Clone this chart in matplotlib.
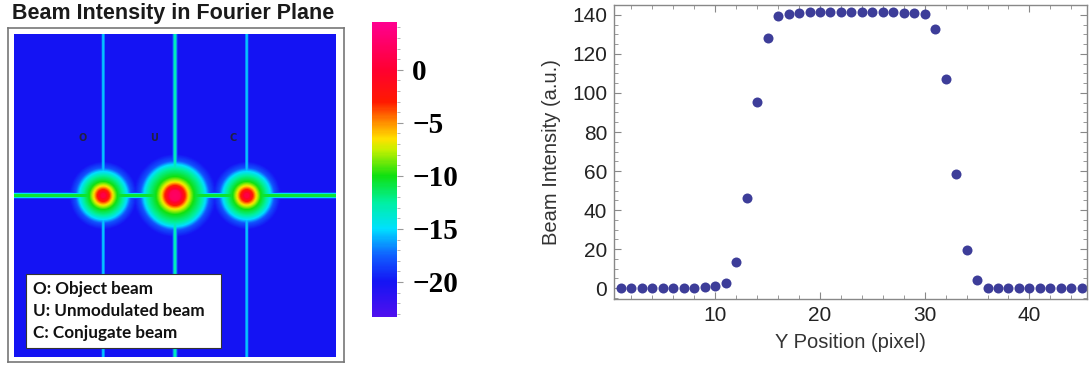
import numpy as np
import matplotlib
matplotlib.use("Agg")
import matplotlib.pyplot as plt
from matplotlib.colors import LinearSegmentedColormap, Normalize
from matplotlib.patches import Rectangle
from matplotlib.ticker import MultipleLocator

# ---------------- data ----------------
# Fourier plane: three beams on a 322 x 322 pixel grid (centred on 0)
beam_labels = ["O", "U", "C"]
beam_x = [-72, 0, 72]            # px
# radial log-intensity profiles (radius in px, level)
small_r = [0, 2, 6, 10, 14, 20, 24, 28, 40]
small_v = [1, 1, -3, -7, -10, -12.5, -15, -18, -22]
big_r = [0, 5, 10, 14, 19, 27, 31, 35, 48]
big_v = [2.5, 2, -3, -7, -10, -12.5, -15, -18, -22]
vline_level = [-15.3, -12.8, -15.3]
hline_level = -10.5
background_level = -20.0
legend_lines = ["O: Object beam", "U: Unmodulated beam", "C: Conjugate beam"]

cbar_ticks = [0, -5, -10, -15, -20]
cbar_range = (-23.3, 4.5)

# line profile through the beam
y_position = list(range(1, 46))
intensity = [0, 0, 0, 0, 0, 0, 0, 0, 0.3, 1.2, 2.6, 13.3, 46, 95.3, 128.4,
             139.3, 140.6, 141.2, 141.3, 141.3, 141.3, 141.3, 141.3, 141.3,
             141.3, 141.3, 141.3, 141.2, 141, 140.3, 132.7, 107, 58.6, 19.6,
             4.3, 0.2, 0, 0, 0, 0, 0, 0, 0, 0, 0]

# ---------------- colour map ----------------
cmap_stops = [(-23.3, "#5010ee"), (-20, "#1414f4"), (-17.5, "#1060ff"),
              (-15, "#00e0ff"), (-12.5, "#00f0a0"), (-10, "#10e010"),
              (-7.5, "#c8f000"), (-6.5, "#ffe000"), (-5, "#ff9000"),
              (-3, "#ff1a00"), (0, "#ff0030"), (4.5, "#ff0090")]
span = cbar_range[1] - cbar_range[0]
cmap = LinearSegmentedColormap.from_list(
    "fourier", [((v - cbar_range[0]) / span, c) for v, c in cmap_stops])
norm = Normalize(*cbar_range)

# ---------------- build field ----------------
half = 161
g = np.arange(-half, half + 1)
X, Y = np.meshgrid(g, g)
field = np.full(X.shape, background_level, dtype=float)
field = np.maximum(field, hline_level - 4 * np.maximum(0, np.abs(Y) - 1.0))
profiles = [(small_r, small_v), (big_r, big_v), (small_r, small_v)]
for bx, lv, (pr, pv) in zip(beam_x, vline_level, profiles):
    field = np.maximum(field, lv - 4 * np.maximum(0, np.abs(X - bx) - 0.8))
    r = np.hypot(X - bx, Y)
    field = np.maximum(field, np.interp(r, pr, pv))

fig = plt.figure(figsize=(10.92, 3.71), dpi=100)
W, H = 1092, 371

def px_axes(x0, y0, x1, y1):
    return fig.add_axes([x0 / W, (H - y1) / H, (x1 - x0) / W, (y1 - y0) / H])

# ---------------- left: image ----------------
ax_img = px_axes(8, 28, 344, 362)
im = ax_img.imshow(field, cmap=cmap, norm=norm, interpolation="bilinear",
                   extent=[-half, half, -half, half], origin="upper")
ax_img.set_xlim(-half - 6, half + 8)
ax_img.set_ylim(-half - 5, half + 6)
ax_img.set_aspect("auto")
ax_img.set_xticks([])
ax_img.set_yticks([])
for s in ax_img.spines.values():
    s.set_color("#777777")
    s.set_linewidth(1.2)

for lab, bx, dx in zip(beam_labels, beam_x, [-20, -21, -14]):
    ax_img.text(bx + dx, 57, lab, fontsize=7, color="#202040", ha="center",
                va="center", fontweight="bold")

# legend box
ax_img.add_patch(Rectangle((-149, -152), 195, 74, fc="white", ec="#333333",
                           lw=0.8, zorder=3))
for i, line in enumerate(legend_lines):
    ax_img.text(-142, -93 - 22 * i, line, fontsize=12.3, family="Lato",
                fontweight="bold", color="#111111", ha="left", va="center",
                zorder=4)

fig.text(12 / W, (H - 14) / H, "Beam Intensity in Fourier Plane", fontsize=15.5,
         fontweight="bold", family="Liberation Sans", color="#1a1a1a",
         ha="left", va="center")

# ---------------- colour bar ----------------
cax = px_axes(372, 22, 397, 317)
cb = fig.colorbar(im, cax=cax, ticks=cbar_ticks)
cb.outline.set_visible(False)
cax.yaxis.set_minor_locator(MultipleLocator(1))
cax.tick_params(which="major", length=4, width=0.8, color="#999999", pad=7)
cax.tick_params(which="minor", length=2, width=0.6, color="#aaaaaa")
for t in cax.get_yticklabels():
    t.set_family("Liberation Serif")
    t.set_fontweight("bold")
    t.set_fontsize(21)

# ---------------- right: scatter ----------------
ax = px_axes(614, 5, 1087, 299)
ax.plot(y_position, intensity, "o", color="#3d3d99", markersize=7.2,
        markeredgewidth=0)
ax.set_xlim(0.33, 45.5)
ax.set_ylim(-5.6, 145.1)
ax.xaxis.set_major_locator(MultipleLocator(10))
ax.xaxis.set_minor_locator(MultipleLocator(2))
ax.yaxis.set_major_locator(MultipleLocator(20))
ax.yaxis.set_minor_locator(MultipleLocator(5))
ax.tick_params(which="both", direction="in", top=True, right=True,
               color="#888888", labelsize=15, labelcolor="#222222")
ax.tick_params(which="major", length=5, width=0.8, pad=5)
ax.tick_params(which="minor", length=3, width=0.6)
for s in ax.spines.values():
    s.set_color("#888888")
    s.set_linewidth(1.0)
for t in ax.get_xticklabels() + ax.get_yticklabels():
    t.set_family("Liberation Sans")
ax.set_xlabel("Y Position (pixel)", fontsize=14.5, family="Liberation Sans",
              color="#333333", labelpad=6)
ax.set_ylabel("Beam Intensity (a.u.)", fontsize=14.5, family="Liberation Sans",
              color="#333333", labelpad=8)

fig.savefig("out.png", dpi=100)
